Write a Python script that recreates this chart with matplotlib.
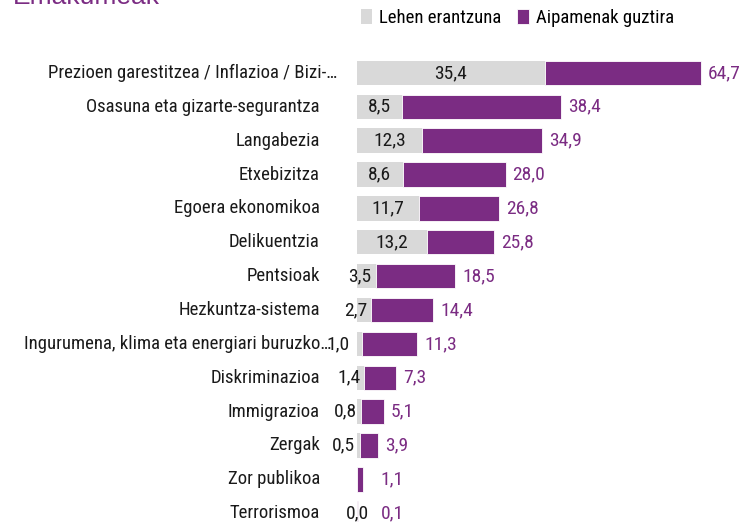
import matplotlib.pyplot as plt
import numpy as np

categories = ["Prezioen garestitzea / Inflazioa / Bizi-…",
              "Osasuna eta gizarte-segurantza",
              "Langabezia",
              "Etxebizitza",
              "Egoera ekonomikoa",
              "Delikuentzia",
              "Pentsioak",
              "Hezkuntza-sistema",
              "Ingurumena, klima eta energiari buruzko…",
              "Diskriminazioa",
              "Immigrazioa",
              "Zergak",
              "Zor publikoa",
              "Terrorismoa"]
first = [35.4, 8.5, 12.3, 8.6, 11.7, 13.2, 3.5, 2.7, 1.0, 1.4, 0.8, 0.5, None, 0.0]
total = [64.7, 38.4, 34.9, 28.0, 26.8, 25.8, 18.5, 14.4, 11.3, 7.3, 5.1, 3.9, 1.1, 0.1]

GRAY = "#d9d9d9"
PURPLE = "#7b2c83"
DARK = "#1a1a1a"

plt.rcParams['font.family'] = ["Roboto Condensed", "DejaVu Sans"]

fig = plt.figure(figsize=(7.46, 5.22), dpi=100)
ax = fig.add_axes([357/746, 0, (746-357)/746, 1 - 56/522])

y = np.arange(len(categories))
f = np.array([v if v is not None else 0 for v in first])
t = np.array(total)

ax.barh(y, f, height=0.72, color=GRAY, label="Lehen erantzuna")
ax.barh(y, t - f, left=f, height=0.72, color=PURPLE, edgecolor="white",
        linewidth=0.6, label="Aipamenak guztira")

for i in range(len(categories)):
    long_name = categories[i].endswith("…")
    if first[i] is not None:
        lab = f"{first[i]:.1f}".replace(".", ",")
        if 0 < f[i] < 5:
            # too small to sit inside: put it just left of the bar end
            dx = -9 if long_name else -3
            ax.annotate(lab, (f[i], y[i]), xytext=(dx, 0), textcoords="offset points",
                        ha="right", va="center", fontsize=14, color=DARK, zorder=5)
        else:
            ax.text(f[i] / 2, y[i], lab, ha="center", va="center", fontsize=14,
                    color=DARK, zorder=5)
    ax.annotate(f"{total[i]:.1f}".replace(".", ","), (max(t[i], 3.2), y[i]),
                xytext=(5, 0), textcoords="offset points",
                ha="left", va="center", fontsize=14, color=PURPLE)
    # truncated labels run a little further right, as in the source
    xl = (-3.8 if i == 0 else -4.9) if long_name else -7.0
    ax.text(xl, y[i], categories[i], ha="right", va="center", fontsize=13.5,
            color=DARK)

ax.set_xlim(0, (746-357)/5.31)
ax.set_ylim(13.26, -0.50)
ax.axis("off")

fig.text(13/746, 1 - 4/522, "Emakumeak", color=PURPLE, fontsize=19,
         family=["Liberation Sans", "DejaVu Sans"], va="baseline", ha="left")

leg = fig.legend(loc="center left", bbox_to_anchor=(353/746, 1 - 18/522), ncol=2,
                 frameon=False, fontsize=13.5, handlelength=0.6, handleheight=0.8,
                 handletextpad=0.4, columnspacing=0.85, borderaxespad=0)

fig.savefig("out.png", dpi=100)
